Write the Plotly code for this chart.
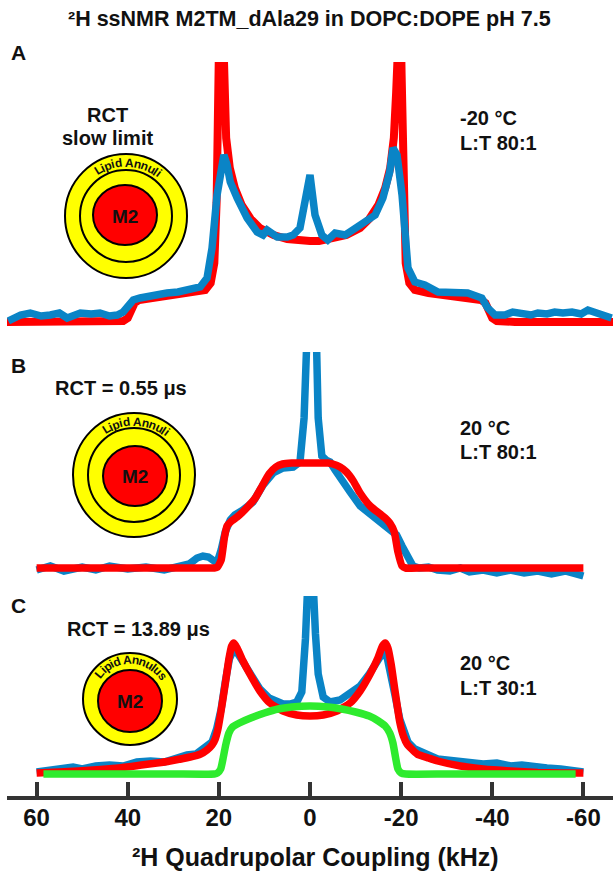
import math
import plotly.graph_objects as go

# ---- data: intensities in arbitrary units, x in kHz ----
# panel A  (-20 C, L:T 80:1)
a_exp_khz = [66.2, 63.5, 61.4, 59.0, 57.0, 55.0, 53.3, 51.5, 50.4, 48.0, 46.1, 44.0, 42.3, 41.0, 39.8, 38.8,
             37.3, 34.5, 31.4, 29.0, 27.0, 24.1, 22.6, 21.5, 20.4, 19.3, 18.9, 18.2, 17.5, 16.0, 13.8, 11.6,
             10.3, 9.4, 8.2, 7.2, 5.0, 3.7, 2.2, 1.1, 0.0, -1.1, -2.6, -3.9, -5.5, -7.7, -9.9, -12.1, -14.3,
             -16.0, -17.5, -18.2, -19.1, -20.2, -20.8, -21.5, -23.0, -25.2, -28.1, -31.8, -34.6, -37.7,
             -39.0, -40.6, -42.8, -44.5, -46.5, -48.5, -50.0, -52.0, -53.7, -55.5, -57.5, -59.5, -61.0,
             -63.2, -66.2]
a_exp_int = [2, 8, 10, 7, 8, 10, 5, 8, 10, 9, 10, 7, 8, 11, 18, 23,
             25, 28, 30, 31, 33, 36, 45, 75, 128, 165, 168, 158, 141, 125, 105, 91,
             88, 93, 90, 86, 86, 88, 95, 118, 148, 108, 88, 83, 90, 88, 95, 100, 108,
             125, 151, 175, 168, 128, 81, 55, 41, 38, 31, 30, 30, 25,
             15, 8, 8, 11, 10, 8, 10, 9, 11, 10, 11, 9, 13,
             10, 5]

a_sim_khz = [66.5, 55.0, 45.0, 41.0, 40.0, 39.3, 38.5, 37.5, 34.0, 30.0, 26.0, 23.0, 21.8, 21.0, 20.5, 20.1,
             19.8, 19.3, 18.9, 18.4, 17.6, 16.5, 15.0, 13.0, 11.0, 8.0, 5.0, 2.0, 0.0, -2.0, -5.0, -8.0,
             -11.0, -13.0, -15.0, -16.5, -17.6, -18.4, -18.9, -19.3, -19.8, -20.1, -20.5, -21.0, -21.8,
             -23.0, -26.0, -30.0, -34.0, -37.5, -38.5, -39.3, -40.0, -41.0, -45.0, -55.0, -66.5]
a_sim_int = [1, 1, 1, 2, 5, 13, 20, 23, 25, 27, 30, 33, 40, 60, 120, 250,
             330, 330, 230, 185, 155, 135, 118, 104, 95, 88, 84, 82, 82, 82, 84, 88,
             95, 104, 118, 135, 155, 185, 230, 330, 330, 250, 120, 60, 40,
             33, 30, 27, 25, 23, 20, 13, 5, 2, 1, 1, 1]

# panel B  (20 C, L:T 80:1, RCT = 0.55 us)
b_exp_khz = [60.0, 57.0, 54.0, 50.0, 47.0, 44.0, 40.0, 36.0, 32.0, 29.0, 26.5, 24.8, 23.5, 22.3, 21.2, 20.4,
             19.5, 18.6, 17.5, 16.5, 14.7, 12.5, 10.3, 8.1, 5.9, 3.7, 2.2, 1.3, 0.6, 0.0, -1.2, -1.8,
             -2.6, -3.5, -4.4, -5.5, -6.6, -8.8, -11.0, -13.2, -15.0, -16.0, -17.5, -19.0, -20.2, -21.3,
             -22.6, -24.0, -26.0, -28.0, -30.7, -33.0, -35.0, -38.0, -41.0, -44.0, -47.0, -50.0, -53.0,
             -56.0, -58.0, -60.0]
b_exp_int = [-2, 2, -3, 1, -2, 2, -1, 1, -2, 1, 4, 10, 12, 11, 6, 5,
             18, 36, 48, 53, 58, 66, 83, 95, 100, 101, 106, 150, 240, 270, 270, 150,
             112, 108, 106, 98, 90, 76, 62, 54, 49, 45, 40, 33, 22, 12,
             2, 0, 1, -2, -3, 0, -4, -2, -5, -2, -5, -3, -6,
             -3, -5, -8]

b_sim_khz = [60.0, 40.0, 25.0, 21.0, 20.3, 19.5, 18.8, 18.2, 17.2, 16.0, 15.0, 13.5, 12.0, 10.5, 9.0, 7.5,
             6.0, 4.0, 0.0, -4.0, -5.0, -6.6, -8.0, -9.5, -11.0, -13.2, -15.4, -16.5, -17.5, -18.5,
             -19.3, -20.2, -21.0, -25.0, -40.0, -60.0]
b_sim_int = [0, 0, 0, 0, 1, 8, 30, 42, 47, 51, 55, 62, 70, 82, 94, 101,
             104, 105, 105, 105, 104, 101, 96, 87, 75, 62, 54, 50, 45, 36,
             16, 2, 0, 0, 0, 0]

# panel C  (20 C, L:T 30:1, RCT = 13.89 us)
c_exp_khz = [60.0, 58.0, 55.0, 52.0, 50.0, 47.0, 44.0, 41.0, 38.0, 35.0, 32.0, 29.0, 27.0, 25.0, 23.0, 21.5,
             20.5, 19.5, 18.6, 17.7, 17.0, 16.3, 15.5, 14.5, 13.0, 11.0, 9.0, 7.0, 5.9, 4.4, 2.9, 1.8,
             1.0, 0.3, -0.5, -1.2, -1.8, -2.9, -4.4, -6.6, -8.8, -11.0, -13.0, -14.5, -15.5, -16.2,
             -17.0, -17.8, -18.6, -19.7, -20.5, -21.5, -23.0, -25.0, -26.5, -28.0, -30.0, -32.0, -35.0,
             -38.0, -41.0, -44.0, -46.5, -49.0, -52.0, -55.0, -58.0, -60.0]
c_exp_int = [2, 3, 5, 7, 5, 8, 9, 8, 12, 13, 12, 17, 19, 20, 26, 32,
             45, 65, 92, 115, 122, 124, 118, 110, 98, 85, 76, 71, 70, 70, 72, 82,
             135, 210, 210, 140, 100, 77, 72, 74, 80, 88, 100, 112, 120, 123,
             115, 100, 80, 55, 42, 32, 25, 20, 18, 15, 14, 12, 12,
             10, 11, 8, 9, 7, 6, 5, 4, 2]

c_sim_khz = [60.0, 55.0, 50.8, 46.0, 42.0, 37.0, 33.6, 30.7, 26.3, 24.0, 22.6, 21.5, 20.8, 20.2, 19.7, 18.6,
             17.8, 17.2, 16.7, 16.0, 14.7, 13.2, 11.0, 8.8, 5.9, 2.9, 0.0, -2.9, -5.9, -8.8, -11.0,
             -13.2, -14.9, -15.9, -16.5, -17.1, -17.8, -18.6, -19.7, -20.5, -21.3, -23.5, -26.0, -28.0,
             -33.0, -38.0, -44.0, -50.0, -55.0, -60.0]
c_sim_int = [1, 2, 3, 4.5, 6, 9, 11, 13, 17, 20, 24, 29, 35, 45, 58, 90,
             115, 128, 131, 126, 113, 100, 83, 71, 63, 59, 58, 59, 63, 71, 83,
             100, 116, 128, 131, 126, 110, 85, 52, 38, 30, 20, 16, 13,
             8, 5, 3, 1.5, 1, 1]

c_fast_khz = [58.5, 50.0, 40.0, 30.0, 21.0, 20.3, 19.6, 19.1, 18.5, 17.8, 17.0, 15.5, 13.0, 10.0, 7.0, 4.0,
              0.0, -4.0, -7.0, -10.0, -13.0, -15.0, -16.5, -17.5, -18.2, -18.8, -19.3, -20.0, -21.0,
              -30.0, -40.0, -50.0, -58.3]
c_fast_int = [0, 0, 0, 0, 0, 1, 5, 15, 29, 41, 47, 51, 56, 61, 65, 67,
              68, 67, 65, 62, 58, 53, 48, 41, 31, 16, 5, 1, 0,
              0, 0, 0, 0]

tick_vals = [60, 40, 20, 0, -20, -40, -60]
tick_text = ["60", "40", "20", "0", "-20", "-40", "-60"]

BLUE = "#0A84C6"
RED = "#FF0000"
GREEN = "#2EEB2E"
YELLOW = "#FFFF00"
INK = "#111111"
FONT = "Liberation Sans, Arial, sans-serif"

# ---- layout helpers (pixel -> paper) ----
W, H = 615, 871
ML, MR, MT, MB = 7, 2, 40, 75
PW, PH = W - ML - MR, H - MT - MB


def px(x):
    return (x - ML) / PW


def py(y):
    return (H - MB - y) / PH


fig = go.Figure()

# panel A: simulation under experiment
fig.add_trace(go.Scatter(x=a_sim_khz, y=a_sim_int, mode="lines", line=dict(color=RED, width=8),
                         xaxis="x", yaxis="y"))
fig.add_trace(go.Scatter(x=a_exp_khz, y=a_exp_int, mode="lines", line=dict(color=BLUE, width=7.5),
                         xaxis="x", yaxis="y"))
# panel B
fig.add_trace(go.Scatter(x=b_exp_khz, y=b_exp_int, mode="lines", line=dict(color=BLUE, width=7.5),
                         xaxis="x", yaxis="y2"))
fig.add_trace(go.Scatter(x=b_sim_khz, y=b_sim_int, mode="lines",
                         line=dict(color=RED, width=7.5, shape="spline", smoothing=0.5),
                         xaxis="x", yaxis="y2"))
# panel C
fig.add_trace(go.Scatter(x=c_exp_khz, y=c_exp_int, mode="lines", line=dict(color=BLUE, width=7.5),
                         xaxis="x", yaxis="y3"))
fig.add_trace(go.Scatter(x=c_sim_khz, y=c_sim_int, mode="lines",
                         line=dict(color=RED, width=7.5, shape="spline", smoothing=0.5),
                         xaxis="x", yaxis="y3"))
fig.add_trace(go.Scatter(x=c_fast_khz, y=c_fast_int, mode="lines",
                         line=dict(color=GREEN, width=7.5, shape="spline", smoothing=0.5),
                         xaxis="x", yaxis="y3"))

# panel boxes: (top px, bottom px, baseline px)
panels = {"yaxis": (62, 335, 323), "yaxis2": (352, 580, 568), "yaxis3": (596, 796, 774)}
for name, (top, bot, base) in panels.items():
    fig.layout[name] = dict(domain=[py(bot), py(top)], range=[base - bot, base - top],
                            visible=False, anchor="x", fixedrange=True)

fig.update_layout(
    width=W, height=H,
    margin=dict(l=ML, r=MR, t=MT, b=MB),
    paper_bgcolor="white", plot_bgcolor="white",
    showlegend=False,
    font=dict(family=FONT, color=INK),
    xaxis=dict(domain=[0, 1], anchor="y3", range=[66.5, -66.5], fixedrange=True,
               tickmode="array", tickvals=tick_vals, ticktext=tick_text,
               ticks="inside", ticklen=14, tickwidth=4, tickcolor="#333333",
               showline=True, linewidth=4, linecolor="#333333",
               showgrid=False, zeroline=False, ticklabelstandoff=-3,
               tickfont=dict(family=FONT, size=24, color=INK, weight="bold")),
)

annotations = []


def label(x, y, text, size=20, anchor="center"):
    annotations.append(dict(xref="paper", yref="paper", x=px(x), y=py(y), text="<b>%s</b>" % text,
                            showarrow=False, xanchor=anchor, yanchor="middle",
                            font=dict(family=FONT, size=size, color=INK)))


label(309, 19, "²H ssNMR M2TM_dAla29 in DOPC:DOPE pH 7.5", size=21.5)
label(315, 857, "²H Quadrupolar Coupling (kHz)", size=25)

label(18, 52, "A", size=21)
label(18, 366, "B", size=21)
label(18, 605, "C", size=21)

label(107, 115, "RCT")
label(107, 138, "slow limit")
label(53, 388, "RCT = 0.55 μs", anchor="left")
label(65, 629, "RCT = 13.89 μs", anchor="left")

label(458, 118, "-20 °C", anchor="left")
label(458, 143, "L:T 80:1", anchor="left")
label(458, 428, "20 °C", anchor="left")
label(458, 452, "L:T 80:1", anchor="left")
label(458, 663, "20 °C", anchor="left")
label(458, 688, "L:T 30:1", anchor="left")

# ---- lipid annulus schematics ----
shapes = []


def ellipse(cx, cy, rx, ry, fill):
    shapes.append(dict(type="circle", xref="paper", yref="paper",
                       x0=px(cx - rx), x1=px(cx + rx), y0=py(cy + ry), y1=py(cy - ry),
                       fillcolor=fill, line=dict(color="black", width=2)))


CHAR_W = {"i": 0.28, "l": 0.28, " ": 0.28, "L": 0.61, "A": 0.72, "p": 0.61, "d": 0.61,
          "n": 0.61, "u": 0.61, "s": 0.56}


def arc_text(cx, cy, r, text, size, mid_deg=0.0):
    widths = [CHAR_W.get(ch, 0.6) * size for ch in text]
    total = sum(widths)
    s = -total / 2
    for ch, w in zip(text, widths):
        theta = math.radians(mid_deg) + (s + w / 2) / r
        s += w
        if ch == " ":
            continue
        annotations.append(dict(xref="paper", yref="paper",
                                x=px(cx + r * math.sin(theta)), y=py(cy - r * math.cos(theta)),
                                text="<b>%s</b>" % ch, showarrow=False, xanchor="center", yanchor="middle",
                                textangle=math.degrees(theta), borderpad=0,
                                font=dict(family=FONT, size=size, color=INK)))


# A
ellipse(126, 216, 61, 62, YELLOW)
ellipse(126, 216, 46, 46, YELLOW)
ellipse(125, 215, 32, 30, RED)
arc_text(126, 216, 53.5, "Lipid Annuli", 12, mid_deg=2)
label(125, 216, "M2", size=19)
# B
ellipse(134, 475, 61, 62, YELLOW)
ellipse(134, 475, 46, 47, YELLOW)
ellipse(135, 476, 32, 30, RED)
arc_text(134, 475, 53.5, "Lipid Annuli", 12, mid_deg=2)
label(135, 476, "M2", size=19)
# C
ellipse(130, 699, 47, 46, YELLOW)
ellipse(130, 701, 32, 31, RED)
arc_text(130, 699, 39.5, "Lipid Annulus", 12, mid_deg=2)
label(130, 701, "M2", size=19)

fig.update_layout(shapes=shapes, annotations=annotations)

# the default page adds an 8px body margin; remove it so the figure sits at the window origin
fig.write_html("out.html", config={"displayModeBar": False},
               post_script="document.body.style.margin='0px';")
